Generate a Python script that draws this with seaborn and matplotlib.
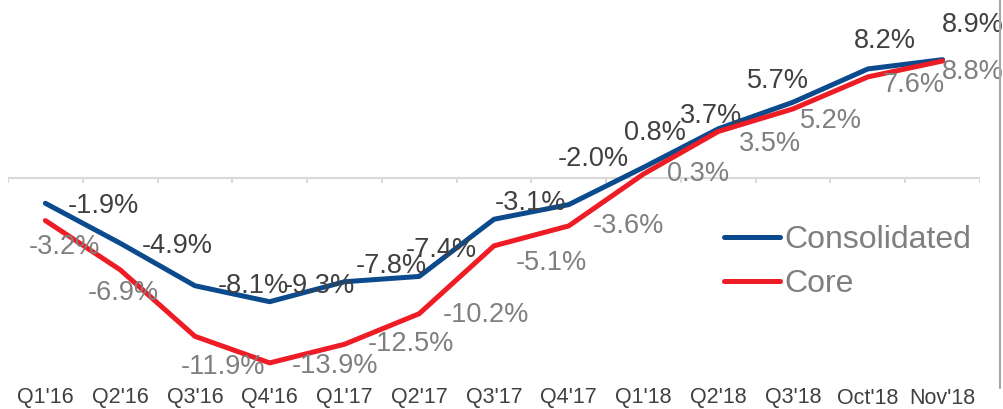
import matplotlib
matplotlib.use("Agg")
import matplotlib.pyplot as plt
import matplotlib.lines as mlines
import pandas as pd
import seaborn as sns

periods = ["Q1'16", "Q2'16", "Q3'16", "Q4'16", "Q1'17", "Q2'17", "Q3'17",
           "Q4'17", "Q1'18", "Q2'18", "Q3'18", "Oct'18", "Nov'18"]
consolidated = [-1.9, -4.9, -8.1, -9.3, -7.8, -7.4, -3.1, -2.0, 0.8, 3.7, 5.7, 8.2, 8.9]
core = [-3.2, -6.9, -11.9, -13.9, -12.5, -10.2, -5.1, -3.6, 0.3, 3.5, 5.2, 7.6, 8.8]

# label offsets in points (layout only, hand placed like the original)
cons_offsets = [(42, -2), (41, -2), (42, 0), (36, 11), (34, 11), (16, 19), (26, 12),
                (18, 33), (8, 25), (-5, 9), (-11, 15), (12, 20), (22, 25)]
core_offsets = [(14, -19), (2, -17), (20, -22), (47, -2), (48, 0), (48, -1), (41, -12),
                (43, 0), (39, 0), (37, -9), (27, -9), (33, -6), (22, -8)]

df = pd.DataFrame({
    "x": list(range(len(periods))) * 2,
    "Growth": consolidated + core,
    "Series": ["Consolidated"] * len(periods) + ["Core"] * len(periods),
})

sns.set_theme(style="white")
plt.rcParams["font.family"] = ["Liberation Sans", "DejaVu Sans"]

blue = "#0b4a8d"
red = "#ee1c25"

fig = plt.figure(figsize=(10.04, 4.09), dpi=100)
ax = fig.add_axes([8 / 1004, 1 - 375 / 409, 972 / 1004, 355 / 409])

sns.lineplot(data=df, x="x", y="Growth", hue="Series",
             palette={"Consolidated": blue, "Core": red}, linewidth=3.6,
             sort=False, legend=False, ax=ax,
             solid_capstyle="round", solid_joinstyle="round")

ax.set_xlim(-0.5, len(periods) - 0.5)
ax.set_ylim(-14.81, 11.88)

# zero axis with boundary ticks
ax.axhline(0, color="#d9d9d9", lw=1.5, zorder=0)
ax.vlines([i - 0.5 for i in range(len(periods) + 1)], -0.4, 0,
          color="#d9d9d9", lw=1.5, zorder=0)

for s in ax.spines.values():
    s.set_visible(False)
ax.set_yticks([])
ax.set_xticks(range(len(periods)))
ax.set_xticklabels(periods, fontsize=15.5, color="#404040")
ax.tick_params(axis="x", length=0, pad=9)
ax.set_xlabel("")
ax.set_ylabel("")

for i, (v, off) in enumerate(zip(consolidated, cons_offsets)):
    ax.annotate(f"{v:.1f}%", (i, v), xytext=off, textcoords="offset points",
                ha="center", va="center", fontsize=19.5, color="#404040")
for i, (v, off) in enumerate(zip(core, core_offsets)):
    ax.annotate(f"{v:.1f}%", (i, v), xytext=off, textcoords="offset points",
                ha="center", va="center", fontsize=19.5, color="#7f7f7f")

handles = [mlines.Line2D([], [], color=blue, lw=3.6, solid_capstyle="round"),
           mlines.Line2D([], [], color=red, lw=3.6, solid_capstyle="round")]
leg = ax.legend(handles, ["Consolidated", "Core"], loc="upper left",
                bbox_to_anchor=(724 / 1004, 1 - 225 / 409), bbox_transform=fig.transFigure,
                frameon=False, fontsize=23, handlelength=1.75, handletextpad=0.15,
                labelspacing=0.45, borderpad=0, borderaxespad=0)
for t in leg.get_texts():
    t.set_color("#7f7f7f")

# right border line
fig.add_artist(mlines.Line2D([1000 / 1004, 1000 / 1004], [1 - 388 / 409, 1],
                             transform=fig.transFigure, color="#a6a6a6", lw=1.5))

fig.savefig("out.png", dpi=100)
